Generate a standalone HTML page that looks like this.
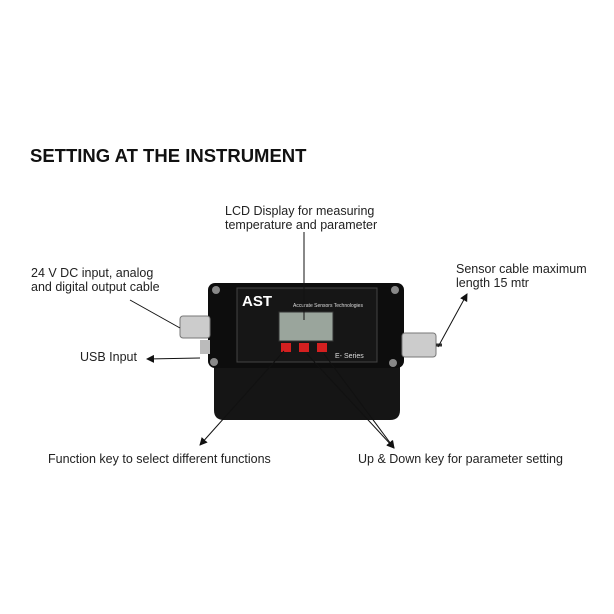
<!DOCTYPE html><html><head><style>
body{margin:0;width:614px;height:614px;background:#fff;position:relative;font-family:"Liberation Sans",sans-serif;overflow:hidden}
.t{position:absolute;font-size:12.5px;color:#222;line-height:14px}
</style></head><body>
<div class="t" style="left:30px;top:145px;font-size:18.5px;font-weight:bold;line-height:21px;color:#111">SETTING AT THE INSTRUMENT</div>
<div class="t" style="left:225px;top:204px">LCD Display for measuring<br>temperature and parameter</div>
<div class="t" style="left:31px;top:266px">24 V DC input, analog<br>and digital output cable</div>
<div class="t" style="left:456px;top:262px">Sensor cable maximum<br>length 15 mtr</div>
<div class="t" style="left:80px;top:350px">USB Input</div>
<div class="t" style="left:48px;top:452px">Function key to select different functions</div>
<div class="t" style="left:358px;top:452px">Up &amp; Down key for parameter setting</div>
<svg width="614" height="614" style="position:absolute;left:0;top:0">
<defs><marker id="a" markerWidth="8" markerHeight="8" refX="7" refY="4" orient="auto"><path d="M0,0L8,4L0,8z" fill="#111"/></marker></defs>
<path d="M214,360 L400,360 L400,410 Q400,420 390,420 L224,420 Q214,420 214,410Z" fill="#151515"/>
<rect x="208" y="283" width="196" height="85" rx="7" fill="#0d0d0d"/>
<rect x="237" y="288" width="140" height="74" fill="#161616" stroke="#444" stroke-width="1"/>
<text x="242" y="306" font-family="Liberation Sans" font-weight="bold" font-size="15" fill="#fff">AST</text>
<text x="293" y="307" font-family="Liberation Sans" font-size="5" fill="#ddd">Accurate Sensors Technologies</text>
<rect x="279" y="312" width="54" height="29" fill="#9aa59c" stroke="#333"/>
<rect x="281" y="343" width="10" height="9" fill="#d42020"/>
<rect x="299" y="343" width="10" height="9" fill="#d42020"/>
<rect x="317" y="343" width="10" height="9" fill="#d42020"/>
<text x="335" y="358" font-family="Liberation Sans" font-size="7" fill="#ddd">E- Series</text>
<circle cx="216" cy="290" r="4" fill="#888"/><circle cx="395" cy="290" r="4" fill="#888"/>
<circle cx="214" cy="362" r="4" fill="#888"/><circle cx="393" cy="363" r="4" fill="#888"/>
<rect x="180" y="316" width="30" height="22" rx="3" fill="#ccc" stroke="#777"/>
<rect x="200" y="340" width="10" height="14" fill="#bbb"/>
<rect x="402" y="333" width="34" height="24" rx="3" fill="#ccc" stroke="#777"/>
<line x1="436" y1="345" x2="442" y2="345" stroke="#333" stroke-width="3"/>
<g stroke="#111" stroke-width="1" fill="none">
<line x1="304" y1="232" x2="304" y2="320"/>
<line x1="130" y1="300" x2="180" y2="328"/>
<line x1="200" y1="358" x2="147" y2="359" marker-end="url(#a)"/>
<line x1="438" y1="347" x2="467" y2="294" marker-end="url(#a)"/>
<line x1="284" y1="351" x2="200" y2="445" marker-end="url(#a)"/>
<line x1="307" y1="354" x2="394" y2="448" marker-end="url(#a)"/>
<line x1="324" y1="354" x2="394" y2="448" marker-end="url(#a)"/>
</g>
</svg>
</body></html>
